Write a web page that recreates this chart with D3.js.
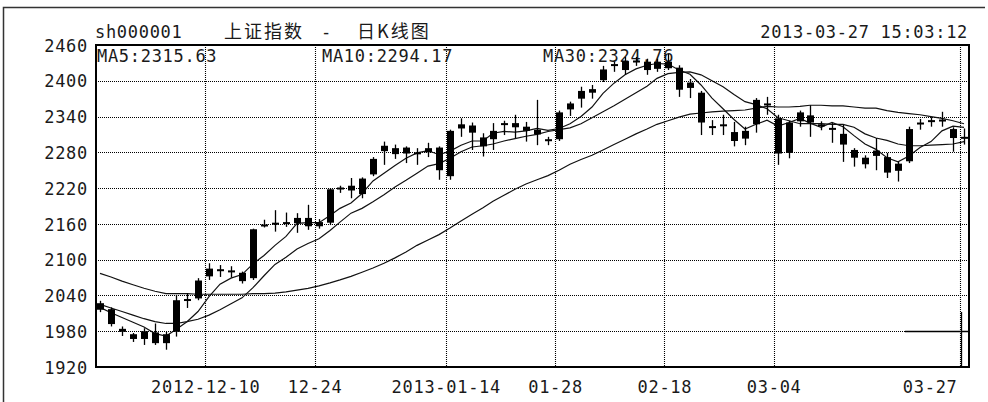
<!DOCTYPE html>
<html>
<head>
<meta charset="utf-8">
<script src="https://cdn.jsdelivr.net/npm/d3@7"></script>
<style>
  body { margin: 0; background: #fff; }
  svg text { font-family: "DejaVu Sans Mono", monospace; fill: #1a1a1a; }
</style>
</head>
<body>
<div id="kline"></div>
<script>
// chart size and plot box
const width = 988, height = 402;
const margin = {top: 45, right: 19, bottom: 35, left: 96};

// trading days shown
const dates = [
  "2012-11-26","2012-11-27","2012-11-28","2012-11-29","2012-11-30",
  "2012-12-03","2012-12-04","2012-12-05","2012-12-06","2012-12-07",
  "2012-12-10","2012-12-11","2012-12-12","2012-12-13","2012-12-14",
  "2012-12-17","2012-12-18","2012-12-19","2012-12-20","2012-12-21",
  "2012-12-24","2012-12-25","2012-12-26","2012-12-27","2012-12-28",
  "2012-12-31","2013-01-04","2013-01-07","2013-01-08","2013-01-09",
  "2013-01-10","2013-01-11","2013-01-14","2013-01-15","2013-01-16",
  "2013-01-17","2013-01-18","2013-01-21","2013-01-22","2013-01-23",
  "2013-01-24","2013-01-25","2013-01-28","2013-01-29","2013-01-30",
  "2013-01-31","2013-02-01","2013-02-04","2013-02-05","2013-02-06",
  "2013-02-07","2013-02-08","2013-02-18","2013-02-19","2013-02-20",
  "2013-02-21","2013-02-22","2013-02-25","2013-02-26","2013-02-27",
  "2013-02-28","2013-03-01","2013-03-04","2013-03-05","2013-03-06",
  "2013-03-07","2013-03-08","2013-03-11","2013-03-12","2013-03-13",
  "2013-03-14","2013-03-15","2013-03-18","2013-03-19","2013-03-20",
  "2013-03-21","2013-03-22","2013-03-25","2013-03-26","2013-03-27"
];

// daily prices
const open = [
  2027,2017,1984,1975,1967, 1978,1960,1979,2031,2035,
  2072,2084,2080,2078,2069, 2157,2161,2163,2161,2170,
  2156,2162,2218,2224,2210, 2243,2291,2277,2288,2278,
  2280,2288,2240,2320,2325, 2305,2302,2327,2329,2316,
  2318,2302,2302,2352,2370, 2380,2401,2425,2418,2433,
  2432,2420,2432,2422,2388, 2380,2322,2325,2314,2303,
  2327,2362,2337,2279,2332, 2342,2327,2321,2311,2284,
  2271,2274,2272,2249,2265, 2328,2332,2334,2319,2305
];
const high = [
  2031,2020,1988,1977,1985, 1993,1979,2041,2044,2069,
  2094,2091,2089,2080,2152, 2167,2183,2179,2178,2192,
  2168,2220,2224,2237,2238, 2272,2298,2293,2290,2287,
  2296,2290,2318,2337,2330, 2312,2329,2333,2343,2331,
  2368,2306,2350,2365,2390, 2393,2425,2432,2440,2440,
  2437,2437,2445,2426,2403, 2383,2334,2343,2331,2323,
  2371,2373,2343,2333,2350, 2359,2332,2329,2326,2287,
  2275,2304,2279,2264,2323, 2336,2339,2348,2322,2320
];
const low = [
  2012,1988,1972,1962,1957, 1957,1949,1971,2019,2032,
  2066,2071,2070,2060,2066, 2154,2147,2155,2145,2150,
  2152,2158,2212,2203,2203, 2240,2259,2269,2262,2259,
  2272,2234,2234,2306,2284, 2273,2284,2309,2304,2298,
  2292,2292,2299,2341,2355, 2370,2398,2415,2410,2425,
  2410,2415,2418,2373,2371, 2309,2309,2309,2290,2292,
  2313,2343,2259,2270,2323, 2306,2317,2296,2264,2256,
  2253,2250,2237,2231,2262, 2318,2323,2323,2281,2293
];
const close = [
  2016,1992,1979,1967,1980, 1960,1975,2032,2034,2065,
  2085,2081,2082,2064,2151, 2159,2162,2161,2170,2156,
  2163,2218,2221,2216,2236, 2269,2282,2287,2278,2280,
  2287,2250,2316,2327,2313, 2290,2316,2329,2322,2323,
  2310,2300,2347,2362,2383, 2386,2419,2428,2433,2434,
  2418,2432,2421,2385,2397, 2330,2324,2327,2299,2316,
  2368,2360,2278,2330,2347, 2330,2325,2319,2293,2271,
  2260,2283,2246,2261,2319, 2330,2334,2335,2304,2306
];

// moving average lines
const ma5 = [
  2020,2011,2003,1995,1987, 1976,1972,1983,1996,2013,
  2038,2059,2069,2075,2093, 2107,2124,2139,2161,2162,
  2162,2174,2186,2195,2211, 2232,2245,2258,2270,2279,
  2283,2276,2282,2292,2299, 2299,2312,2315,2314,2316,
  2320,2317,2320,2328,2340, 2356,2379,2396,2410,2420,
  2426,2429,2428,2418,2411, 2393,2371,2353,2335,2319,
  2327,2334,2324,2330,2337, 2329,2322,2330,2323,2308,
  2294,2285,2271,2264,2274, 2288,2298,2316,2324,2322
];
const ma10 = [
  2025,2019,2013,2007,2001, 1996,1993,1993,1996,2000,
  2007,2016,2026,2036,2053, 2073,2092,2104,2118,2127,
  2135,2149,2163,2178,2186, 2197,2209,2222,2233,2245,
  2257,2261,2270,2281,2289, 2291,2294,2299,2303,2307,
  2310,2315,2318,2321,2328, 2338,2348,2358,2369,2380,
  2391,2404,2412,2414,2415, 2410,2400,2390,2377,2365,
  2360,2353,2338,2333,2328, 2328,2328,2327,2327,2322,
  2311,2304,2300,2294,2291, 2291,2292,2293,2294,2298
];
const ma30 = [
  2077,2071,2064,2058,2052, 2047,2043,2043,2043,2042,
  2042,2042,2042,2042,2043, 2043,2044,2046,2049,2052,
  2056,2061,2066,2072,2079, 2086,2094,2103,2113,2124,
  2133,2142,2153,2165,2176, 2187,2198,2208,2218,2227,
  2234,2241,2250,2260,2268, 2275,2284,2293,2302,2311,
  2319,2327,2333,2339,2344, 2346,2348,2349,2350,2351,
  2354,2357,2356,2356,2357, 2359,2359,2358,2358,2356,
  2354,2354,2350,2347,2345, 2343,2340,2337,2333,2328
];

// axis ticks and labels
const yTicks = [1920, 1980, 2040, 2100, 2160, 2220, 2280, 2340, 2400, 2460];
const xTickDates = ["2012-12-10","2012-12-24","2013-01-14","2013-01-28","2013-02-18","2013-03-04","2013-03-27"];
const xTickLabels = ["2012-12-10","12-24","2013-01-14","01-28","02-18","03-04","03-27"];

// header texts
const code = "sh000001";
const title1 = "上证指数";
const title2 = "日K线图";
const stamp = "2013-03-27 15:03:12";
const maLabels = ["MA5:2315.63", "MA10:2294.17", "MA30:2324.76"];
const cursorValue = 1980;

const svg = d3.select("#kline")
  .append("svg")
  .attr("width", width)
  .attr("height", height);

svg.append("rect").attr("width", width).attr("height", height).attr("fill", "#fff");

// outer frame (top and left edges visible)
svg.append("path")
  .attr("d", "M3.5,402 V7.5 H985")
  .attr("fill", "none")
  .attr("stroke", "#333")
  .attr("stroke-width", 1.5);

const x = d3.scaleBand()
  .domain(dates)
  .range([94.5, width - margin.right]);

const y = d3.scaleLinear()
  .domain([1920, 2460])
  .range([height - margin.bottom, margin.top]);

const cx = (d) => Math.round(x(d) + x.bandwidth() / 2);

// grid
const grid = svg.append("g")
  .attr("stroke", "#000")
  .attr("stroke-width", 1.1)
  .attr("stroke-dasharray", "1,1");

grid.selectAll(".hg")
  .data(yTicks.slice(1, -1))
  .join("line")
    .attr("x1", margin.left)
    .attr("x2", width - margin.right)
    .attr("y1", (d) => Math.round(y(d)) + 0.5)
    .attr("y2", (d) => Math.round(y(d)) + 0.5);

grid.selectAll(".vg")
  .data(xTickDates)
  .join("line")
    .attr("x1", (d) => cx(d) - 3.5)
    .attr("x2", (d) => cx(d) - 3.5)
    .attr("y1", margin.top)
    .attr("y2", height - margin.bottom);

// moving average captions
svg.selectAll(".malabel")
  .data(maLabels)
  .join("text")
    .attr("x", (d, i) => [97, 322, 543][i])
    .attr("y", 61.5)
    .attr("font-size", "17px")
    .attr("letter-spacing", "0.7px")
    .text((d) => d);

// clip everything drawn inside the box
svg.append("clipPath").attr("id", "plotclip")
  .append("rect")
    .attr("x", margin.left)
    .attr("y", margin.top)
    .attr("width", width - margin.right - margin.left)
    .attr("height", height - margin.bottom - margin.top);

const plot = svg.append("g").attr("clip-path", "url(#plotclip)");

// MA lines
[ma30, ma10, ma5].forEach((ma) => {
  const line = d3.line()
    .x((d, i) => cx(dates[i]))
    .y((d) => y(d));
  plot.append("path")
    .datum(ma)
    .attr("fill", "none")
    .attr("stroke", "#111")
    .attr("stroke-width", 1.2)
    .attr("d", line);
});

// candles
const idx = d3.range(dates.length);

plot.selectAll(".wick")
  .data(idx)
  .join("line")
    .attr("x1", (i) => cx(dates[i]) + 0.5)
    .attr("x2", (i) => cx(dates[i]) + 0.5)
    .attr("y1", (i) => y(high[i]))
    .attr("y2", (i) => y(low[i]))
    .attr("stroke", "#000")
    .attr("stroke-width", 1.3);

plot.selectAll(".body")
  .data(idx)
  .join("rect")
    .attr("x", (i) => cx(dates[i]) - 3)
    .attr("y", (i) => y(Math.max(open[i], close[i])))
    .attr("width", 7)
    .attr("height", (i) => Math.max(2, Math.abs(y(open[i]) - y(close[i]))))
    .attr("fill", "#000");

// cursor cross at bottom right
const last = dates[dates.length - 1];
plot.append("line")
  .attr("x1", 905).attr("x2", width - margin.right)
  .attr("y1", Math.round(y(cursorValue)) + 0.5)
  .attr("y2", Math.round(y(cursorValue)) + 0.5)
  .attr("stroke", "#000").attr("stroke-width", 1.3);
plot.append("line")
  .attr("x1", cx(last) - 2.5).attr("x2", cx(last) - 2.5)
  .attr("y1", 312).attr("y2", height - margin.bottom)
  .attr("stroke", "#000").attr("stroke-width", 1.3);

// plot border
svg.append("rect")
  .attr("x", margin.left)
  .attr("y", margin.top)
  .attr("width", width - margin.right - margin.left)
  .attr("height", height - margin.bottom - margin.top)
  .attr("fill", "none")
  .attr("stroke", "#000")
  .attr("stroke-width", 2);

// y axis
const yAxis = svg.append("g")
  .attr("transform", `translate(${margin.left},0)`)
  .call(d3.axisLeft(y).tickValues(yTicks).tickFormat(d3.format("d"))
        .tickSize(0).tickPadding(8));
yAxis.select(".domain").remove();
yAxis.selectAll("text")
  .attr("font-size", "17px")
  .attr("letter-spacing", "0.7px")
  .attr("dy", "0.36em")
  .style("font-family", '"DejaVu Sans Mono", monospace');

// x axis
const xAxis = svg.append("g")
  .attr("transform", `translate(0,${height - margin.bottom})`)
  .call(d3.axisBottom(x).tickValues(xTickDates)
        .tickFormat((d, i) => xTickLabels[i]).tickSize(0).tickPadding(13.5));
xAxis.select(".domain").remove();
xAxis.selectAll("text")
  .attr("font-size", "17px")
  .attr("letter-spacing", "0.7px")
  .style("font-family", '"DejaVu Sans Mono", monospace')
  .attr("dx", (d, i) => i === xTickDates.length - 1 ? -6 : -3.5)
  .attr("text-anchor", (d, i) => i === xTickDates.length - 1 ? "end" : "middle");

// header
svg.append("text").attr("x", 95).attr("y", 37.5)
  .attr("font-size", "17px").attr("letter-spacing", "0.7px").text(code);
svg.append("text").attr("x", 224).attr("y", 37.5)
  .attr("font-size", "18px").attr("letter-spacing", "2px")
  .style("font-family", '"Noto Sans CJK SC", sans-serif').text(title1);
svg.append("text").attr("x", 321).attr("y", 37.5)
  .attr("font-size", "17px").text("-");
svg.append("text").attr("x", 357).attr("y", 37.5)
  .attr("font-size", "18px").attr("letter-spacing", "2px")
  .style("font-family", '"Noto Sans CJK SC", sans-serif').text(title2);
svg.append("text").attr("x", 968).attr("y", 37.5)
  .attr("text-anchor", "end")
  .attr("font-size", "17px").attr("letter-spacing", "0.7px").text(stamp);
</script>
</body>
</html>
